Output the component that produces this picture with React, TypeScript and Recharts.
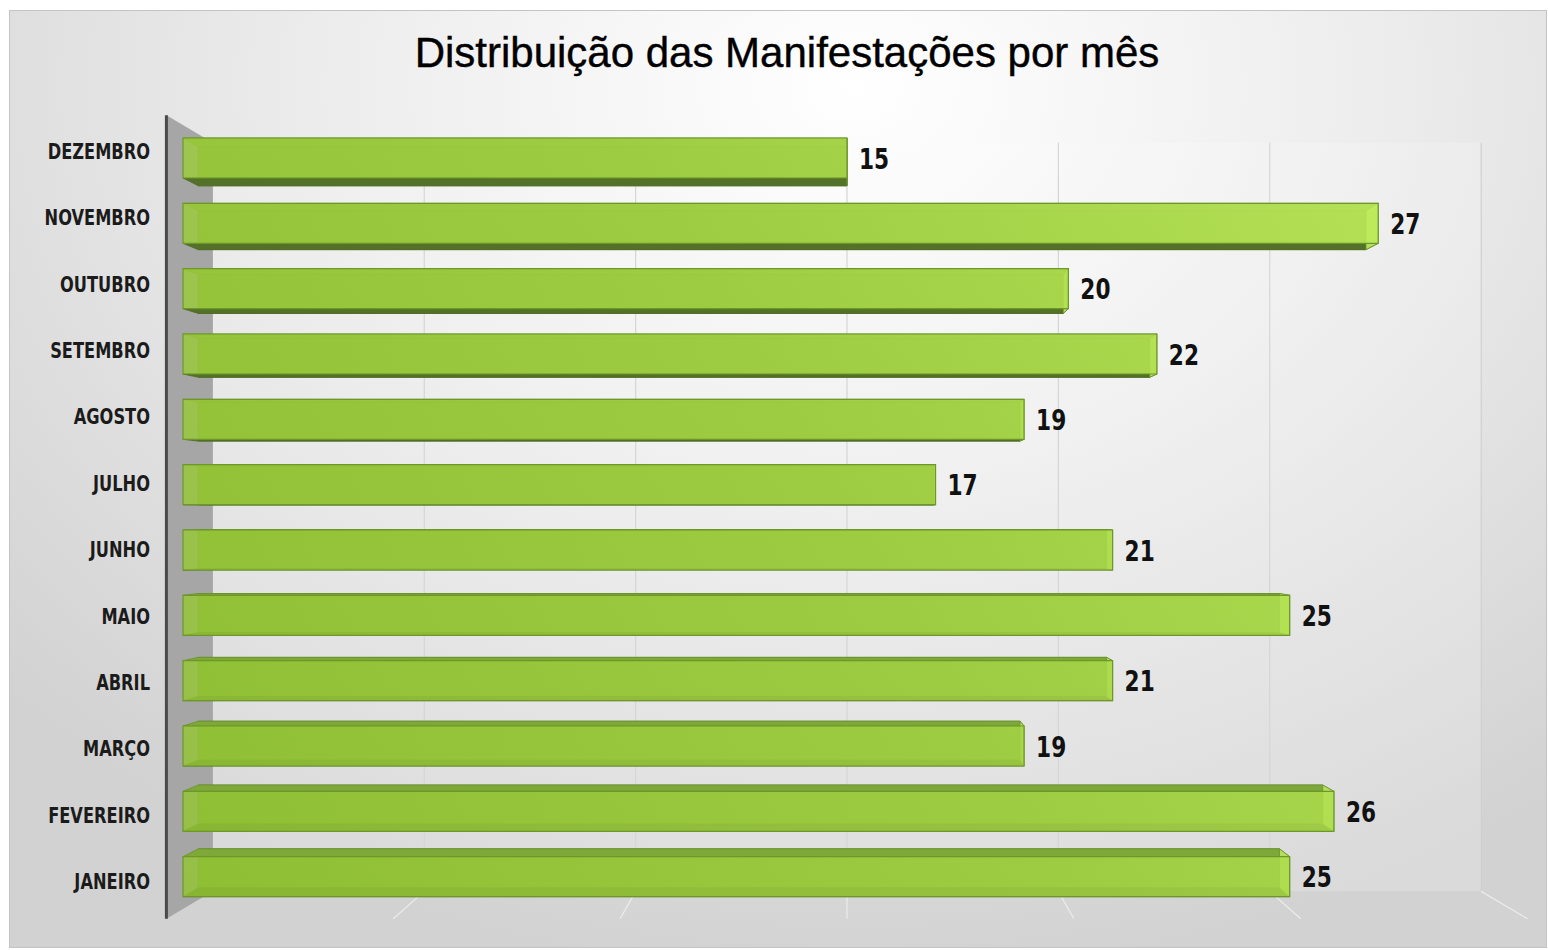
import React from 'react';
import { BarChart, Bar, XAxis, YAxis, CartesianGrid, ReferenceArea, LabelList } from 'recharts';

const months = ['JANEIRO', 'FEVEREIRO', 'MARÇO', 'ABRIL', 'MAIO', 'JUNHO', 'JULHO', 'AGOSTO', 'SETEMBRO', 'OUTUBRO', 'NOVEMBRO', 'DEZEMBRO'];
const counts = [25, 26, 19, 21, 25, 21, 17, 19, 22, 20, 27, 15];
const xTicks = [0, 5, 10, 15, 20, 25, 30];

const data = months.map((m, i) => ({ month: m, total: counts[i] }));

// fake 3D: vanishing point in chart coords, depth factors
const VX = 838;
const VY = 507;
const K_BAR = 0.023;
const K_WALL = 0.045;
const K_FRONT = -0.025;

const proj = (x: number, y: number, k: number) => [x + (VX - x) * k, y + (VY - y) * k];
const pts = (arr: number[][]) => arr.map((p) => p.join(',')).join(' ');

const labelFont = '"Liberation Sans Narrow", "DejaVu Sans Condensed", "Arial Narrow", sans-serif';

const Bar3D = (props: any) => {
  const { x, y, width, height } = props;
  if (!width) return null;
  const f = [[x, y], [x + width, y], [x + width, y + height], [x, y + height]];
  const b = f.map(([px, py]) => proj(px, py, K_BAR));
  return (
    <g>
      <polygon points={pts(b)} fill="#7aa434" stroke="#5c8424" strokeWidth={0.8} />
      <polygon points={pts([f[3], f[2], b[2], b[3]])} fill="#54712a" stroke="#4d6a22" strokeWidth={0.8} />
      <polygon points={pts([f[0], f[1], b[1], b[0]])} fill="#7fa83a" stroke="#6a9228" strokeWidth={0.8} />
      <polygon points={pts([f[1], f[2], b[2], b[1]])} fill="#b4de5e" stroke="#6a9228" strokeWidth={0.8} />
      <polygon points={pts(f)} fill="url(#barFront)" fillOpacity={0.82} stroke="#6b9828" strokeWidth={1.2} />
    </g>
  );
};

const Room = (props: any) => {
  const { x, y, width, height } = props;
  const ft = proj(x, y, K_FRONT);
  const fb = proj(x, y + height, K_FRONT);
  const bt = proj(x, y, K_WALL);
  const bb = proj(x, y + height, K_WALL);
  const br = proj(x + width, y, K_WALL);
  const bbr = proj(x + width, y + height, K_WALL);
  return (
    <g>
      <rect x={bt[0]} y={bt[1]} width={br[0] - bt[0]} height={bbr[1] - br[1]} fill="#ffffff" fillOpacity={0.18} />
      <polygon points={pts([ft, bt, bb, fb])} fill="#a6a6a6" />
      <line x1={ft[0]} y1={ft[1]} x2={fb[0]} y2={fb[1]} stroke="#4a4a4a" strokeWidth={3} />
    </g>
  );
};

const GridLine = (props: any) => {
  const { x1, y1, y2, index } = props;
  const top = proj(x1, y1, K_WALL);
  const bot = proj(x1, y2, K_WALL);
  const front = proj(x1, y2, K_FRONT);
  if (index === 0) return <g key={`g${index}`} />;
  return (
    <g key={`g${index}`}>
      <line x1={top[0]} y1={top[1]} x2={bot[0]} y2={bot[1]} stroke="#cdcdcd" strokeWidth={1.2} />
      <line x1={bot[0]} y1={bot[1]} x2={front[0]} y2={front[1]} stroke="#ececec" strokeWidth={1.2} />
    </g>
  );
};

const MonthTick = (props: any) => {
  const { x, y, payload } = props;
  const ty = y + (y - VY) * 0.016;
  return (
    <g transform={`translate(${x - 25},${ty}) scale(0.86,1)`}>
      <text x={0} y={0} textAnchor="end" dominantBaseline="central" fill="#1b1b1b"
        style={{ fontFamily: labelFont, fontWeight: 700, fontSize: 21 }}>
        {payload.value}
      </text>
    </g>
  );
};

const ValueLabel = (props: any) => {
  const { x, y, width, height, value } = props;
  return (
    <g transform={`translate(${x + width + 12},${y + height / 2 + 1}) scale(0.86,1)`}>
      <text x={0} y={0} dominantBaseline="central" fill="#111"
        style={{ fontFamily: labelFont, fontWeight: 700, fontSize: 28 }}>
        {value}
      </text>
    </g>
  );
};

export default function App() {
  return (
    <div style={{
      position: 'absolute', left: 9, top: 10, width: 1538, height: 938,
      border: '1px solid #c4c4c4', boxSizing: 'border-box',
      background: 'radial-gradient(ellipse 75% 95% at 55% 8%, #ffffff 0%, #ededed 45%, #d2d2d2 100%)',
    }}>
      <div style={{
        position: 'absolute', left: 9, top: 21, width: '100%', textAlign: 'center',
        fontFamily: '"Liberation Sans", Arial, sans-serif', fontSize: 42, lineHeight: '42px', color: '#000',
        WebkitTextStroke: '0.4px #000',
      }}>
        Distribuição das Manifestações por mês
      </div>
      <BarChart width={1538} height={938} data={data} layout="vertical"
        margin={{ top: 115, right: 36, bottom: 39, left: 0 }} style={{ position: 'absolute', left: -1, top: -1 }}>
        <defs>
          <linearGradient id="barFront" gradientUnits="userSpaceOnUse" x1={174} y1={900} x2={1500} y2={115}>
            <stop offset="0%" stopColor="#93c433" />
            <stop offset="50%" stopColor="#a5d444" />
            <stop offset="100%" stopColor="#c6f462" />
          </linearGradient>
        </defs>
        <ReferenceArea x1={0} x2={30} shape={<Room />} fill="none" stroke="none" ifOverflow="visible" />
        <CartesianGrid horizontal={false} vertical={(p: any) => <GridLine {...p} />} />
        <XAxis type="number" domain={[0, 30]} ticks={xTicks} hide />
        <YAxis type="category" dataKey="month" reversed width={174} interval={0}
          axisLine={false} tickLine={false} tick={<MonthTick />} />
        <Bar dataKey="total" barSize={40} shape={<Bar3D />} isAnimationActive={false}>
          <LabelList dataKey="total" content={<ValueLabel />} />
        </Bar>
      </BarChart>
    </div>
  );
}
